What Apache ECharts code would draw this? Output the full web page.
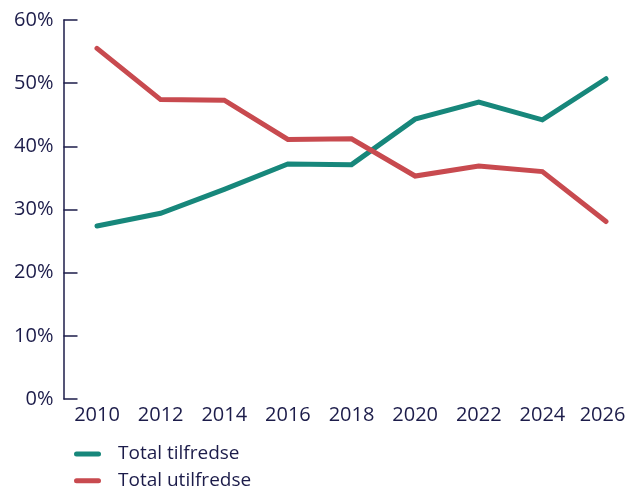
<!DOCTYPE html>
<html>
<head>
<meta charset="utf-8">
<script src="https://cdn.jsdelivr.net/npm/echarts@6/dist/echarts.min.js"></script>
<style>
  html, body { margin: 0; padding: 0; background: #ffffff; }
  #chart { width: 630px; height: 489px; }
</style>
</head>
<body>
<div id="chart"></div>
<script>
// Survey years along the x axis
const years = ['2010', '2012', '2014', '2016', '2018', '2020', '2022', '2024', '2026'];

// Share of respondents (%) per year
const tilfredse = [27.4, 29.4, 33.2, 37.2, 37.1, 44.3, 47.0, 44.2, 50.7];
const utilfredse = [55.5, 47.4, 47.3, 41.1, 41.2, 35.3, 36.9, 36.0, 28.1];

const seriesNames = ['Total tilfredse', 'Total utilfredse'];
const seriesColors = ['#17877b', '#c84a4f'];

const ink = '#1c1c4a';
const fontFamily = '"Open Sans", "Noto Sans", sans-serif';

// Pill-shaped legend marker with rounded ends
const pillIcon = 'path://M2.5,0 H24.5 A2.5,2.5 0 0 1 24.5,5 H2.5 A2.5,2.5 0 0 1 2.5,0 Z';

const chart = echarts.init(document.getElementById('chart'), null, { renderer: 'canvas' });

// One stacked legend row per series
function legendRow(name, top) {
  return {
    orient: 'vertical',
    left: 74,
    top: top,
    padding: 0,
    itemWidth: 27,
    itemHeight: 5,
    icon: pillIcon,
    data: [name],
    textStyle: {
      color: ink,
      fontFamily: fontFamily,
      fontSize: 19,
      lineHeight: 20,
      padding: [0, 0, 0, 12]
    }
  };
}

chart.setOption({
  animation: false,
  backgroundColor: '#ffffff',
  grid: { left: 97, right: 24, top: 20, bottom: 90, containLabel: false },
  legend: [legendRow(seriesNames[0], 444), legendRow(seriesNames[1], 470.7)],
  xAxis: {
    type: 'category',
    data: years,
    boundaryGap: false,
    axisLine: { show: false },
    axisTick: { show: false },
    axisLabel: {
      color: ink,
      fontFamily: fontFamily,
      fontSize: 20,
      margin: 6,
      interval: 0,
      formatter: function (v) {
        return v === years[years.length - 1] ? '{last|' + v + '}' : v;
      },
      rich: {
        last: { color: ink, fontFamily: fontFamily, fontSize: 20, padding: [0, 7, 0, 0] }
      }
    },
    splitLine: { show: false }
  },
  yAxis: {
    type: 'value',
    min: 0,
    max: 60,
    interval: 10,
    offset: 33.5,
    axisLine: { show: true, lineStyle: { color: ink, width: 1.5 } },
    axisTick: { show: true, inside: true, length: 14, lineStyle: { color: ink, width: 1.5 } },
    axisLabel: {
      color: ink,
      fontFamily: fontFamily,
      fontSize: 20,
      margin: 10,
      formatter: '{value}%'
    },
    splitLine: { show: false }
  },
  series: [
    {
      name: seriesNames[0],
      type: 'line',
      data: tilfredse,
      symbol: 'none',
      color: seriesColors[0],
      lineStyle: { width: 5, color: seriesColors[0], cap: 'round', join: 'miter' }
    },
    {
      name: seriesNames[1],
      type: 'line',
      data: utilfredse,
      symbol: 'none',
      color: seriesColors[1],
      lineStyle: { width: 5, color: seriesColors[1], cap: 'round', join: 'miter' }
    }
  ]
});
</script>
</body>
</html>
